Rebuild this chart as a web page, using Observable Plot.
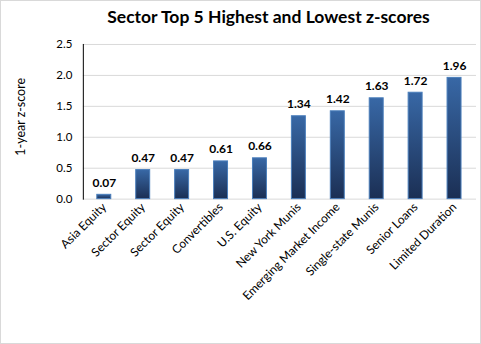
<!DOCTYPE html>
<html>
<head>
<meta charset="utf-8">
<script src="https://cdn.jsdelivr.net/npm/d3@7"></script>
<script src="https://cdn.jsdelivr.net/npm/@observablehq/plot@0.6"></script>
<style>
  html, body { margin: 0; padding: 0; background: #fff; }
  #wrap { position: relative; width: 481px; height: 344px; box-sizing: border-box; border: 1px solid #d9d9d9; font-family: Lato, "Liberation Sans", sans-serif; }
  #title { position: absolute; left: 27px; top: 5px; width: 481px; text-align: center; font-weight: bold; font-size: 17.5px; color: #000; }
  #chart { position: absolute; left: -1px; top: 33px; }
</style>
</head>
<body>
<div id="wrap">
  <div id="title">Sector Top 5 Highest and Lowest z-scores</div>
  <div id="chart"></div>
</div>
<script>
const categories = ["Asia Equity", "Sector Equity", "Sector Equity ", "Convertibles", "U.S. Equity", "New York Munis", "Emerging Market Income", "Single-state Munis", "Senior Loans", "Limited Duration"];
const values = [0.07, 0.47, 0.47, 0.61, 0.66, 1.34, 1.42, 1.63, 1.72, 1.96];
const yTicks = [0, 0.5, 1.0, 1.5, 2.0, 2.5];

const data = categories.map((c, i) => ({cat: c, v: values[i]}));
const ns = "http://www.w3.org/2000/svg";

const plot = Plot.plot({
  width: 481,
  height: 310,
  marginTop: 10,
  marginBottom: 145,
  marginLeft: 83,
  marginRight: 4,
  style: {fontFamily: "Lato, 'Liberation Sans', sans-serif", fontSize: "12px", color: "#000", background: "transparent"},
  x: {domain: categories, paddingInner: 0.64, paddingOuter: 0.32, label: null},
  y: {domain: [0, 2.5], ticks: yTicks, label: null},
  marks: [
    Plot.gridY(yTicks, {stroke: "#d9d9d9", strokeOpacity: 1}),
    Plot.barY(data, {x: "cat", y: "v", fill: "url(#barGrad)", stroke: "#4a7ebb", strokeWidth: 1}),
    Plot.text(data, {x: "cat", y: "v", text: d => d.v.toFixed(2), dy: -12, fontWeight: "bold", fontSize: 12, fill: "#000"}),
    Plot.frame({anchor: "left", stroke: "#000"}),
    Plot.axisY({ticks: yTicks, tickSize: 0, tickPadding: 11, tickFormat: d => d.toFixed(1), fontSize: 11.5, label: null}),
    Plot.text(["1-year z-score"], {frameAnchor: "left", textAnchor: "middle", dx: -62, dy: -5, rotate: -90, fontSize: 12.5, fill: "#000"}),
    Plot.axisX({tickSize: 0, tickPadding: 6, tickRotate: -45, fontSize: 12, label: null, tickFormat: d => d.trim()})
  ]
});

// gradient defs
const svg = plot.tagName.toLowerCase() === "svg" ? plot : plot.querySelector("svg");
const defs = document.createElementNS(ns, "defs");
const grad = document.createElementNS(ns, "linearGradient");
grad.setAttribute("id", "barGrad");
grad.setAttribute("x1", "0"); grad.setAttribute("y1", "0");
grad.setAttribute("x2", "0"); grad.setAttribute("y2", "1");
[["0%", "#3868a6"], ["100%", "#1b2f54"]].forEach(([o, c]) => {
  const s = document.createElementNS(ns, "stop");
  s.setAttribute("offset", o); s.setAttribute("stop-color", c);
  grad.appendChild(s);
});
defs.appendChild(grad);
svg.insertBefore(defs, svg.firstChild);

document.getElementById("chart").appendChild(plot);
</script>
</body>
</html>
